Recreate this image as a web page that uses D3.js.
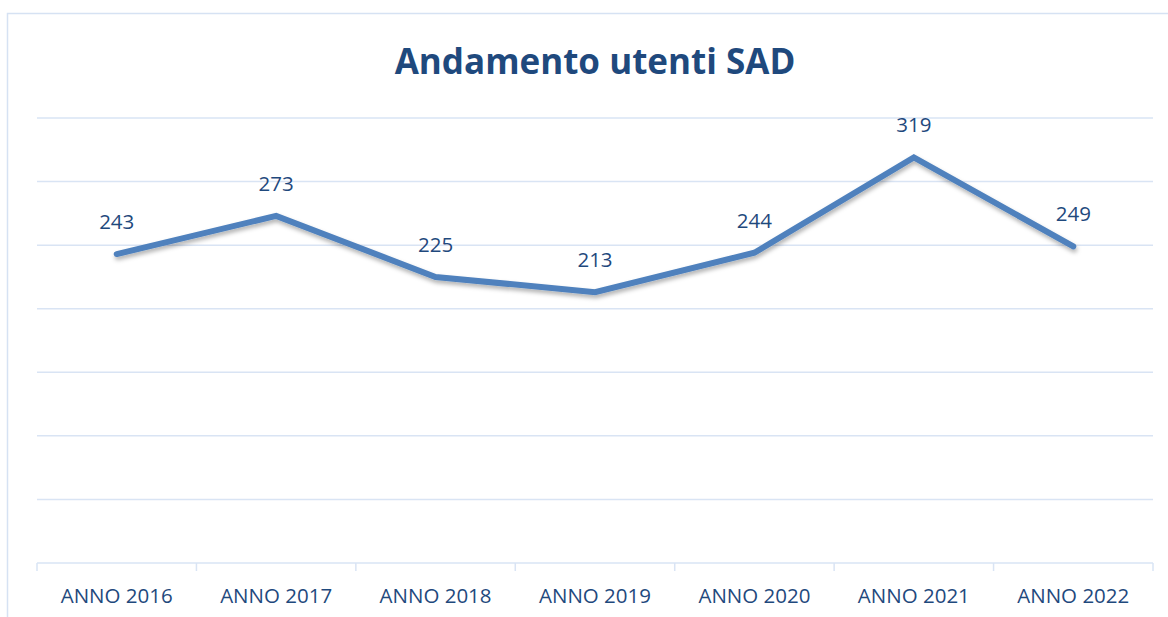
<!DOCTYPE html>
<html>
<head>
<meta charset="utf-8">
<script src="https://cdn.jsdelivr.net/npm/d3@7"></script>
<style>
  body { margin: 0; background: #fff; }
  #chart text { font-family: 'Open Sans', 'Noto Sans', sans-serif; }
</style>
</head>
<body>
<div id="chart"></div>
<script>
const years = ['ANNO 2016', 'ANNO 2017', 'ANNO 2018', 'ANNO 2019', 'ANNO 2020', 'ANNO 2021', 'ANNO 2022'];
const utenti = [243, 273, 225, 213, 244, 319, 249];
const yTicks = [0, 50, 100, 150, 200, 250, 300, 350];
const title = 'Andamento utenti SAD';

const size = { width: 1168, height: 617 };
const margin = { top: 118, right: 15, bottom: 54, left: 37 };

const svg = d3.select('#chart').append('svg')
  .attr('width', size.width)
  .attr('height', size.height);

const defs = svg.append('defs');
const shadow = defs.append('filter').attr('id', 'shadow')
  .attr('x', '-10%').attr('y', '-10%').attr('width', '120%').attr('height', '130%');
shadow.append('feDropShadow')
  .attr('dx', 1).attr('dy', 3).attr('stdDeviation', 2)
  .attr('flood-color', '#000').attr('flood-opacity', 0.3);

// chart border
svg.append('rect')
  .attr('x', 7.5).attr('y', 13.5)
  .attr('width', size.width + 10).attr('height', size.height)
  .attr('fill', 'none')
  .attr('stroke', '#d6e2f3')
  .attr('stroke-width', 1.5);

const x = d3.scaleBand()
  .domain(years)
  .range([margin.left, size.width - margin.right]);

const y = d3.scaleLinear()
  .domain([0, 350])
  .range([size.height - margin.bottom, margin.top]);

// gridlines
svg.append('g')
  .selectAll('line')
  .data(yTicks.slice(1))
  .join('line')
  .attr('x1', margin.left)
  .attr('x2', size.width - margin.right)
  .attr('y1', (d) => y(d))
  .attr('y2', (d) => y(d))
  .attr('stroke', '#d9e4f4')
  .attr('stroke-width', 1.5);

// x axis
const xAxis = svg.append('g')
  .attr('transform', `translate(0, ${y(0)})`)
  .call(d3.axisBottom(x).tickSize(0).tickPadding(25));
xAxis.select('.domain')
  .attr('stroke', '#d9e4f4')
  .attr('stroke-width', 1.5)
  .attr('d', `M${margin.left},0H${size.width - margin.right}`);
xAxis.selectAll('.tick text')
  .attr('fill', '#1f497d')
  .style('font-size', '20.5px');

const bounds = years.map((d) => x(d)).concat([x.range()[1]]);
xAxis.selectAll('.bound')
  .data(bounds)
  .join('line')
  .attr('class', 'bound')
  .attr('x1', (d) => d)
  .attr('x2', (d) => d)
  .attr('y1', 0)
  .attr('y2', 8)
  .attr('stroke', '#d9e4f4')
  .attr('stroke-width', 1.5);

const cx = (d, i) => x(years[i]) + x.bandwidth() / 2;

const line = d3.line()
  .x((d, i) => cx(d, i))
  .y((d) => y(d));

svg.append('path')
  .datum(utenti)
  .attr('d', line)
  .attr('fill', 'none')
  .attr('stroke', '#4f81bd')
  .attr('stroke-width', 6)
  .attr('stroke-linecap', 'round')
  .attr('stroke-linejoin', 'miter')
  .attr('filter', 'url(#shadow)');

svg.append('g')
  .selectAll('text')
  .data(utenti)
  .join('text')
  .attr('x', cx)
  .attr('y', (d) => y(d) - 25)
  .attr('text-anchor', 'middle')
  .attr('fill', '#1f497d')
  .style('font-size', '20.5px')
  .text((d) => d);

svg.append('text')
  .attr('x', 595)
  .attr('y', 74)
  .attr('text-anchor', 'middle')
  .attr('fill', '#1f497d')
  .style('font-size', '35px')
  .style('font-weight', 'bold')
  .text(title);
</script>
</body>
</html>
